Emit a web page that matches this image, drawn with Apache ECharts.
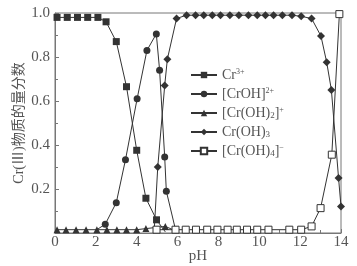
<!DOCTYPE html>
<html><head><meta charset="utf-8">
<script src="https://cdn.jsdelivr.net/npm/echarts@6/dist/echarts.min.js"></script>
<style>html,body{margin:0;padding:0;background:#fff}#c{width:357px;height:266px}</style>
</head><body><div id="c"></div>
<script>
// pH, fraction pairs
const cr3 = [[0.1,0.98],[0.6,0.98],[1.1,0.98],[1.6,0.98],[2.1,0.98],[2.5,0.96],[3.0,0.87],[3.5,0.665],[4.0,0.376],[4.45,0.158],[4.97,0.06],[5.4,0.005]];
const crOH = [[2.0,0.012],[2.46,0.04],[3.0,0.138],[3.45,0.333],[4.02,0.61],[4.5,0.83],[4.96,0.905],[5.12,0.74],[5.37,0.345],[5.45,0.19],[5.9,0.015]];
const crOH2 = [[0.1,0.015],[0.54,0.015],[1.03,0.015],[1.52,0.015],[2.05,0.015],[2.54,0.015],[3.03,0.015],[3.5,0.015],[4.0,0.015],[4.45,0.02],[5.4,0.03],[5.9,0.01]];
const crOH3 = [[4.85,0.0],[5.03,0.3],[5.37,0.67],[5.5,0.79],[5.95,0.975],[6.44,0.99],[6.88,0.99],[7.28,0.99],[7.7,0.99],[8.1,0.99],[8.56,0.99],[9.0,0.99],[9.47,0.99],[9.9,0.99],[10.3,0.99],[10.7,0.99],[11.13,0.99],[11.6,0.99],[12.05,0.985],[12.56,0.975],[13.02,0.895],[13.3,0.776],[13.53,0.65],[13.88,0.25],[14.0,0.12]];
const crOH4 = [[4.97,0.015],[5.9,0.015],[6.4,0.015],[6.9,0.015],[7.45,0.015],[7.95,0.015],[8.45,0.015],[8.9,0.015],[9.4,0.015],[9.9,0.015],[10.45,0.015],[11.47,0.015],[12.05,0.015],[12.56,0.03],[13.0,0.113],[13.55,0.356],[13.92,0.995]];
const names = ['Cr3+','[CrOH]2+','[Cr(OH)2]+','Cr(OH)3','[Cr(OH)4]-'];
const xTicks = [0,2,4,6,8,10,12,14];
const yTicks = [0.2,0.4,0.6,0.8,1.0];

const SERIF = "'Liberation Serif','Times New Roman',serif";
const INK = '#333';
const TXT = '#555';
const richLabels = {
  'Cr3+': '{a|Cr}{p|3+}',
  '[CrOH]2+': '{a|[CrOH]}{p|2+}',
  '[Cr(OH)2]+': '{a|[Cr(OH)}{b|2}{a|]}{p|+}',
  'Cr(OH)3': '{a|Cr(OH)}{b|3}',
  '[Cr(OH)4]-': '{a|[Cr(OH)}{b|4}{a|]}{p|−}'
};
const symbols = ['rect','circle','triangle','diamond','rect'];
const sizes = [7,7,7,8,7];
const datas = [cr3, crOH, crOH2, crOH3, crOH4];
const noSym = {0:[11],1:[0],2:[11],3:[0],4:[]};

const series = datas.map((d,i)=>({
  name: names[i], type:'line', symbol: symbols[i], symbolSize: sizes[i],
  data: d.map((p,j)=> noSym[i].includes(j) ? {value:p, symbol:'none'} : p),
  lineStyle:{color:INK,width:1},
  itemStyle: i===4 ? {color:'#fff', borderColor:INK, borderWidth:1} : {color:INK, borderColor:INK, borderWidth:0},
  showSymbol:true, animation:false, z: i===4?3:2
}));

const chart = echarts.init(document.getElementById('c'));
chart.setOption({
  animation:false,
  backgroundColor:'#fff',
  grid:{left:55,right:16,top:13,bottom:33,show:true,borderColor:'#777',borderWidth:1,
        containLabel:false, outerBoundsMode:'none'},
  legend:{
    orient:'vertical', left:185, top:63, itemGap:5, itemWidth:26, itemHeight:8,
    data: names,
    formatter: n => richLabels[n],
    textStyle:{color:TXT, fontFamily:SERIF, fontSize:14,
      rich:{ a:{fontSize:14,fontFamily:SERIF,color:TXT,verticalAlign:'middle',lineHeight:14},
             p:{fontSize:8,fontFamily:SERIF,color:TXT,verticalAlign:'top',lineHeight:14,padding:[0,0,6,0]},
             b:{fontSize:9,fontFamily:SERIF,color:TXT,verticalAlign:'bottom',lineHeight:14,padding:[5,0,0,0]} }},
  },
  xAxis:{type:'value',min:0,max:14,interval:2,
    name:'pH', nameLocation:'middle', nameGap:16, nameMoveOverlap:false,
    nameTextStyle:{fontFamily:SERIF,fontSize:15,color:TXT},
    axisLine:{lineStyle:{color:'#777'}},
    axisTick:{inside:true,length:4,lineStyle:{color:'#777'}},
    minorTick:{show:true,splitNumber:2,length:3,lineStyle:{color:'#777'}},
    axisLabel:{fontFamily:SERIF,fontSize:15,color:TXT,margin:2,
      formatter:v=> xTicks.includes(v)? String(v):''},
    splitLine:{show:false}},
  yAxis:{type:'value',min:0,max:1,interval:0.2,
    name:'Cr(Ⅲ)物质的量分数', nameLocation:'middle', nameGap:29, nameMoveOverlap:false,
    nameTextStyle:{fontFamily:"'Liberation Serif','Noto Sans CJK SC',serif",fontSize:14,color:TXT},
    axisLine:{lineStyle:{color:'#777'}},
    axisTick:{inside:true,length:4,lineStyle:{color:'#777'}},
    minorTick:{show:true,splitNumber:2,length:3,lineStyle:{color:'#777'}},
    axisLabel:{fontFamily:SERIF,fontSize:15,color:TXT,margin:5,
      formatter:v=>{const t=yTicks.find(y=>Math.abs(y-v)<1e-6);return t===undefined?'':t.toFixed(1);}},
    splitLine:{show:false}},
  series
});
</script></body></html>
